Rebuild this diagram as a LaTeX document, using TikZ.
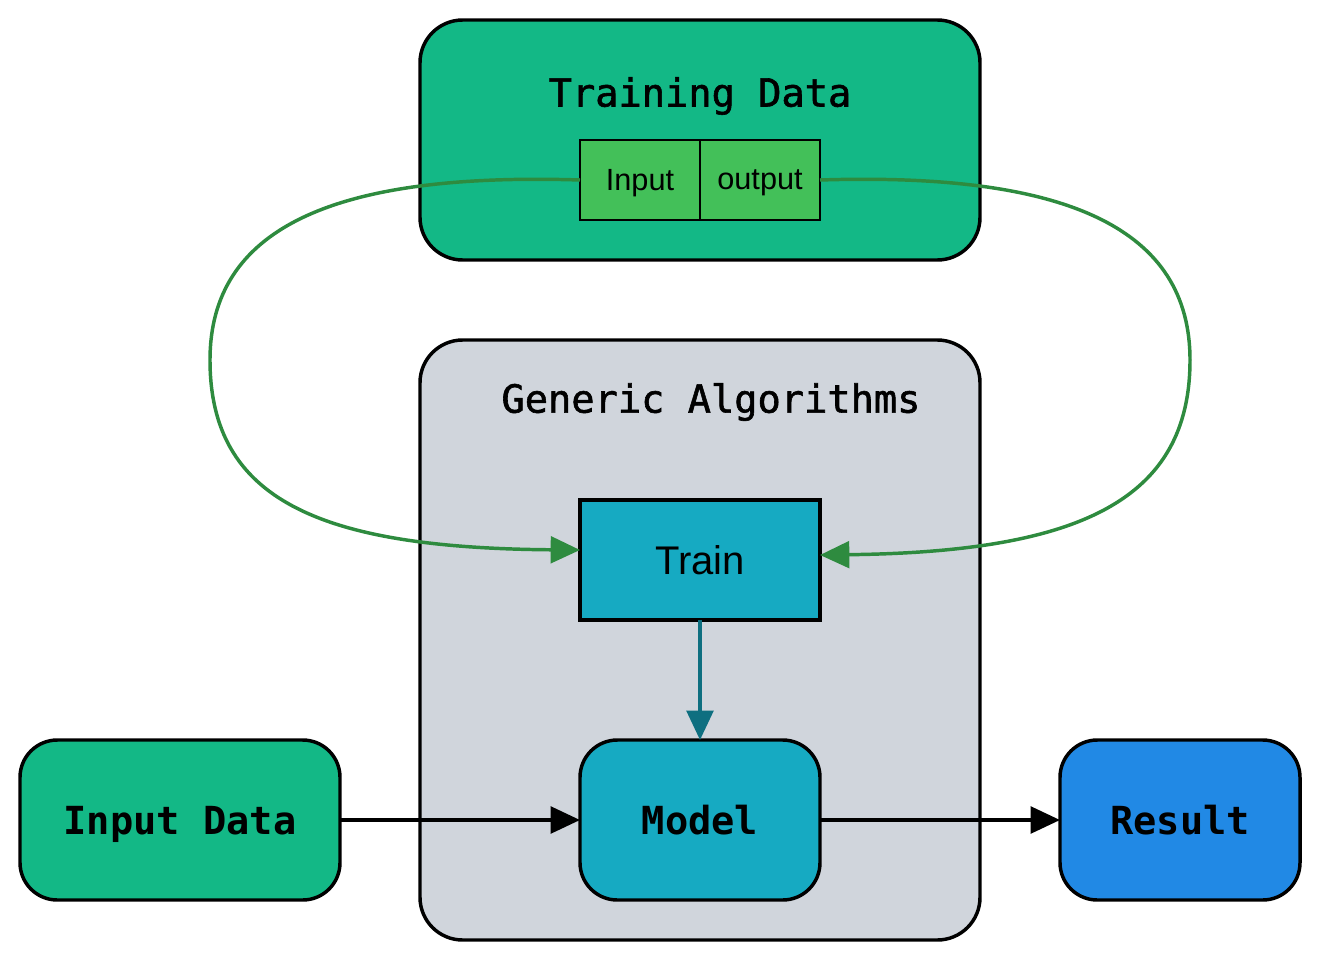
\documentclass[tikz,border=0pt]{standalone}
\usepackage{fontspec}
\setmainfont{Liberation Sans}
\setmonofont{DejaVu Sans Mono}
\newfontfamily\titlemono[FakeBold=1.5]{DejaVu Sans Mono}
\usepackage{tikz}
\usetikzlibrary{positioning}
\usetikzlibrary{arrows.meta}
\definecolor{datagreen}{HTML}{13B886}
\definecolor{cellgreen}{HTML}{43C059}
\definecolor{algogray}{HTML}{D0D5DC}
\definecolor{modelteal}{HTML}{16AAC2}
\definecolor{resultblue}{HTML}{2189E5}
\definecolor{curvegreen}{HTML}{2E8B3F}
\definecolor{arrowteal}{HTML}{0E6F80}

\begin{document}
\begin{tikzpicture}[%
    x=0.75pt, y=-0.75pt,
    node distance=180pt,
    inner sep=0pt,
    outer sep=0pt,
groupnode/.style={rectangle, draw=black, line width=2.6pt, rounded corners=32pt},
roundnode/.style={rectangle, align=center, draw=black, line width=2.6pt, rounded corners=28pt, minimum width=180pt, minimum height=120pt, text depth=0pt, font=\fontsize{29}{34}\selectfont\ttfamily\bfseries},
squarednode/.style={rectangle, align=center, draw=black, line width=2.6pt, fill=modelteal, minimum width=180pt, minimum height=90pt, font=\fontsize{30}{35}\selectfont},
cellnode/.style={rectangle, align=center, draw=black, line width=1.1pt, fill=cellgreen, minimum width=90pt, minimum height=60pt, text depth=0pt, font=\fontsize{23}{28}\selectfont},
title/.style={align=center, font=\fontsize{29}{34}\selectfont\titlemono},
link/.style={line width=2.6pt, -{Triangle[length=22pt,width=20pt]}},
]
\useasboundingbox (0,0) rectangle (1320,960);

% Containers
\node[groupnode, fill=datagreen, minimum width=420pt, minimum height=180pt] (trainingdata) at (700,140) {};
\node[groupnode, fill=algogray, minimum width=420pt, minimum height=450pt] (algorithms) at (700,640) {};

% Titles
\node[title] (trainingtitle) at (700,96) {Training Data};
\node[title] (algotitle) at (711,402) {Generic Algorithms};

% Training Data cells
\node[cellnode] (input) at (640,180) {Input};
\node[cellnode] (output) [right=0pt of input] {output};

% Algorithm Nodes
\node[squarednode] (train) at (700,560) {Train};
\node[roundnode, fill=modelteal] (model) [below=90pt of train] {Model};

% Data Nodes
\node[roundnode, fill=datagreen, minimum width=240pt] (inputdata) [left=of model] {Input Data};
\node[roundnode, fill=resultblue] (result) [right=of model] {Result};

% Lines
\draw[link, curvegreen] (input.west) .. controls (330,172) and (210,230) .. (210,360)
    .. controls (210,500) and (320,548) .. ([yshift=7.5pt]train.west);
\draw[link, curvegreen] (output.east) .. controls (1070,172) and (1190,230) .. (1190,360)
    .. controls (1190,500) and (1080,552) .. ([yshift=3.75pt]train.east);
\draw[link, arrowteal] (train.south) -- (model.north);
\draw[link] (inputdata.east) -- (model.west);
\draw[link] (model.east) -- (result.west);

\end{tikzpicture}
\end{document}
